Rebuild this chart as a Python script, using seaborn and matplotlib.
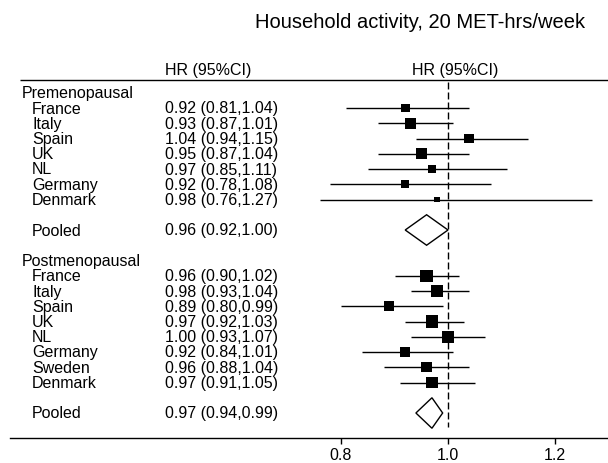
import numpy as np
import pandas as pd
import matplotlib
matplotlib.use("Agg")
import matplotlib.pyplot as plt
import matplotlib.transforms as mtransforms
import seaborn as sns

# estimates (HR and 95% CI), weights ~ marker area
pre_names = ["France", "Italy", "Spain", "UK", "NL", "Germany", "Denmark"]
pre_hr = [0.92, 0.93, 1.04, 0.95, 0.97, 0.92, 0.98]
pre_lo = [0.81, 0.87, 0.94, 0.87, 0.85, 0.78, 0.76]
pre_hi = [1.04, 1.01, 1.15, 1.04, 1.11, 1.08, 1.27]
pre_weight = [8.1, 12.1, 10.0, 11.4, 6.4, 6.4, 3.6]
pre_pooled = (0.96, 0.92, 1.00)

post_names = ["France", "Italy", "Spain", "UK", "NL", "Germany", "Sweden", "Denmark"]
post_hr = [0.96, 0.98, 0.89, 0.97, 1.00, 0.92, 0.96, 0.97]
post_lo = [0.90, 0.93, 0.80, 0.92, 0.93, 0.84, 0.88, 0.91]
post_hi = [1.02, 1.04, 0.99, 1.03, 1.07, 1.01, 1.04, 1.05]
post_weight = [15.1, 15.1, 10.0, 15.1, 15.1, 10.0, 10.6, 12.8]
post_pooled = (0.97, 0.94, 0.99)

title = "Household activity, 20 MET-hrs/week"
col_head = "HR (95%CI)"
xticks = [0.8, 1.0, 1.2]

# row layout: group header, countries, blank, pooled
pre_rows = list(range(0, len(pre_names)))
pre_pool_row = 8
post_rows = list(range(11, 11 + len(post_names)))
post_pool_row = 20

studies = pd.DataFrame({
    "hr": pre_hr + post_hr,
    "lo": pre_lo + post_lo,
    "hi": pre_hi + post_hi,
    "weight": pre_weight + post_weight,
    "row": pre_rows + post_rows,
})

sns.set_style("white")
plt.rcParams["font.family"] = ["Liberation Sans", "DejaVu Sans"]
plt.rcParams["text.color"] = "black"
plt.rcParams["xtick.color"] = "black"
plt.rcParams["xtick.labelcolor"] = "black"
FS = 11.5

fig = plt.figure(figsize=(6.08, 4.64), dpi=100)
W, H = 608, 464
ax = fig.add_axes([10 / W, (H - 439) / H, 598 / W, 439 / H])
row0, step = 109, 15.25  # pixel y of row 0 and row spacing
ax.set_xlim(1 + (10 - 448) / 535, 1 + (608 - 448) / 535)
ax.set_ylim((439 - row0) / step, -row0 / step)

# confidence intervals and weighted squares
ax.hlines(studies["row"], studies["lo"], studies["hi"], color="black", lw=1)
k = 10 / 1.389 ** 2
wmin, wmax = studies["weight"].min(), studies["weight"].max()
sns.scatterplot(data=studies, x="hr", y="row", size="weight", sizes=(wmin * k, wmax * k),
                size_norm=(wmin, wmax), marker="s", color="black", linewidth=0,
                legend=False, ax=ax)

# pooled diamonds
for (hr, lo, hi), r in [(pre_pooled, pre_pool_row), (post_pooled, post_pool_row)]:
    ax.fill([lo, hr, hi, hr, lo], [r, r - 1, r, r + 1, r], facecolor="white",
            edgecolor="black", lw=1, zorder=3)

# null line
ax.vlines(1.0, (83 - row0) / step, (428 - row0) / step, color="black", lw=1,
          linestyles=(0, (5, 2.2)), zorder=1)

# top rule
ax.hlines((81 - row0) / step, 1 + (20 - 448) / 535, ax.get_xlim()[1], color="black", lw=1,
          clip_on=False)

ax.set_xticks(xticks)
ax.set_xticklabels([f"{t:.1f}" for t in xticks], fontsize=FS, color="black")
ax.set_yticks([])
ax.set_xlabel("")
ax.set_ylabel("")
for s in ["top", "left", "right"]:
    ax.spines[s].set_visible(False)
ax.spines["bottom"].set_linewidth(1)
ax.spines["bottom"].set_color("black")
ax.tick_params(axis="x", direction="out", length=4.3, width=1, color="black", pad=2.5,
               bottom=True)

# left text columns
tr = mtransforms.blended_transform_factory(fig.transFigure, ax.transData)
def ci_text(hr, lo, hi):
    return f"{hr:.2f} ({lo:.2f},{hi:.2f})"

ax.text(22 / W, -1, "Premenopausal", transform=tr, fontsize=FS, va="center")
for n, hr, lo, hi, r in zip(pre_names, pre_hr, pre_lo, pre_hi, pre_rows):
    ax.text(32 / W, r, n, transform=tr, fontsize=FS, va="center")
    ax.text(165 / W, r, ci_text(hr, lo, hi), transform=tr, fontsize=FS, va="center")
ax.text(32 / W, pre_pool_row, "Pooled", transform=tr, fontsize=FS, va="center")
ax.text(165 / W, pre_pool_row, ci_text(*pre_pooled), transform=tr, fontsize=FS, va="center")

ax.text(22 / W, 10, "Postmenopausal", transform=tr, fontsize=FS, va="center")
for n, hr, lo, hi, r in zip(post_names, post_hr, post_lo, post_hi, post_rows):
    ax.text(32 / W, r, n, transform=tr, fontsize=FS, va="center")
    ax.text(165 / W, r, ci_text(hr, lo, hi), transform=tr, fontsize=FS, va="center")
ax.text(32 / W, post_pool_row, "Pooled", transform=tr, fontsize=FS, va="center")
ax.text(165 / W, post_pool_row, ci_text(*post_pooled), transform=tr, fontsize=FS, va="center")

# headers and title
fig.text(165 / W, 1 - 70 / H, col_head, fontsize=FS, va="center", ha="left")
fig.text(455 / W, 1 - 70 / H, col_head, fontsize=FS, va="center", ha="center")
fig.text(420 / W, 1 - 22 / H, title, fontsize=14.5, va="center", ha="center")

fig.savefig("out.png", dpi=100, facecolor="white")
